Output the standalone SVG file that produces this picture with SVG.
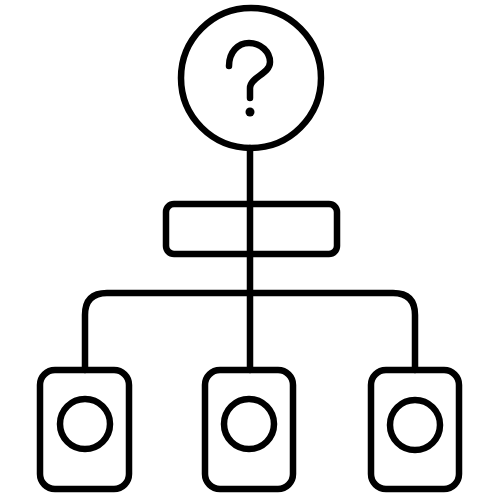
<svg xmlns="http://www.w3.org/2000/svg" width="500" height="500" viewBox="0 0 500 500">
<style>
.s{fill:none;stroke:#000;stroke-width:6.5;stroke-linecap:round;stroke-linejoin:round}
</style>
<rect width="500" height="500" fill="#fff"/>
<g id="connectors">
<path class="s" d="M250 148 V370"/>
<path class="s" d="M85 370 V315 Q85 293 107 293 H393 Q415 293 415 315 V370"/>
</g>
<g id="root">
<circle class="s" cx="251" cy="78" r="70"/>
<path class="s" d="M229 66 C229 52 238 43 249 43 C261 43 270 52 270 62 C270 74 250 77 250 88 V98"/>
<circle cx="250" cy="112" r="4.5" fill="#000"/>
</g>
<g id="middle">
<rect class="s" x="166" y="204" width="171" height="50" rx="8"/>
</g>
<g id="leaf-left">
<rect class="s" x="40" y="370" width="89" height="119" rx="15"/>
<circle class="s" cx="85" cy="424" r="25"/>
</g>
<g id="leaf-center">
<rect class="s" x="205" y="370" width="88" height="119" rx="15"/>
<circle class="s" cx="249" cy="424" r="25"/>
</g>
<g id="leaf-right">
<rect class="s" x="371" y="370" width="88" height="119" rx="15"/>
<circle class="s" cx="415" cy="425" r="25"/>
</g>
</svg>
